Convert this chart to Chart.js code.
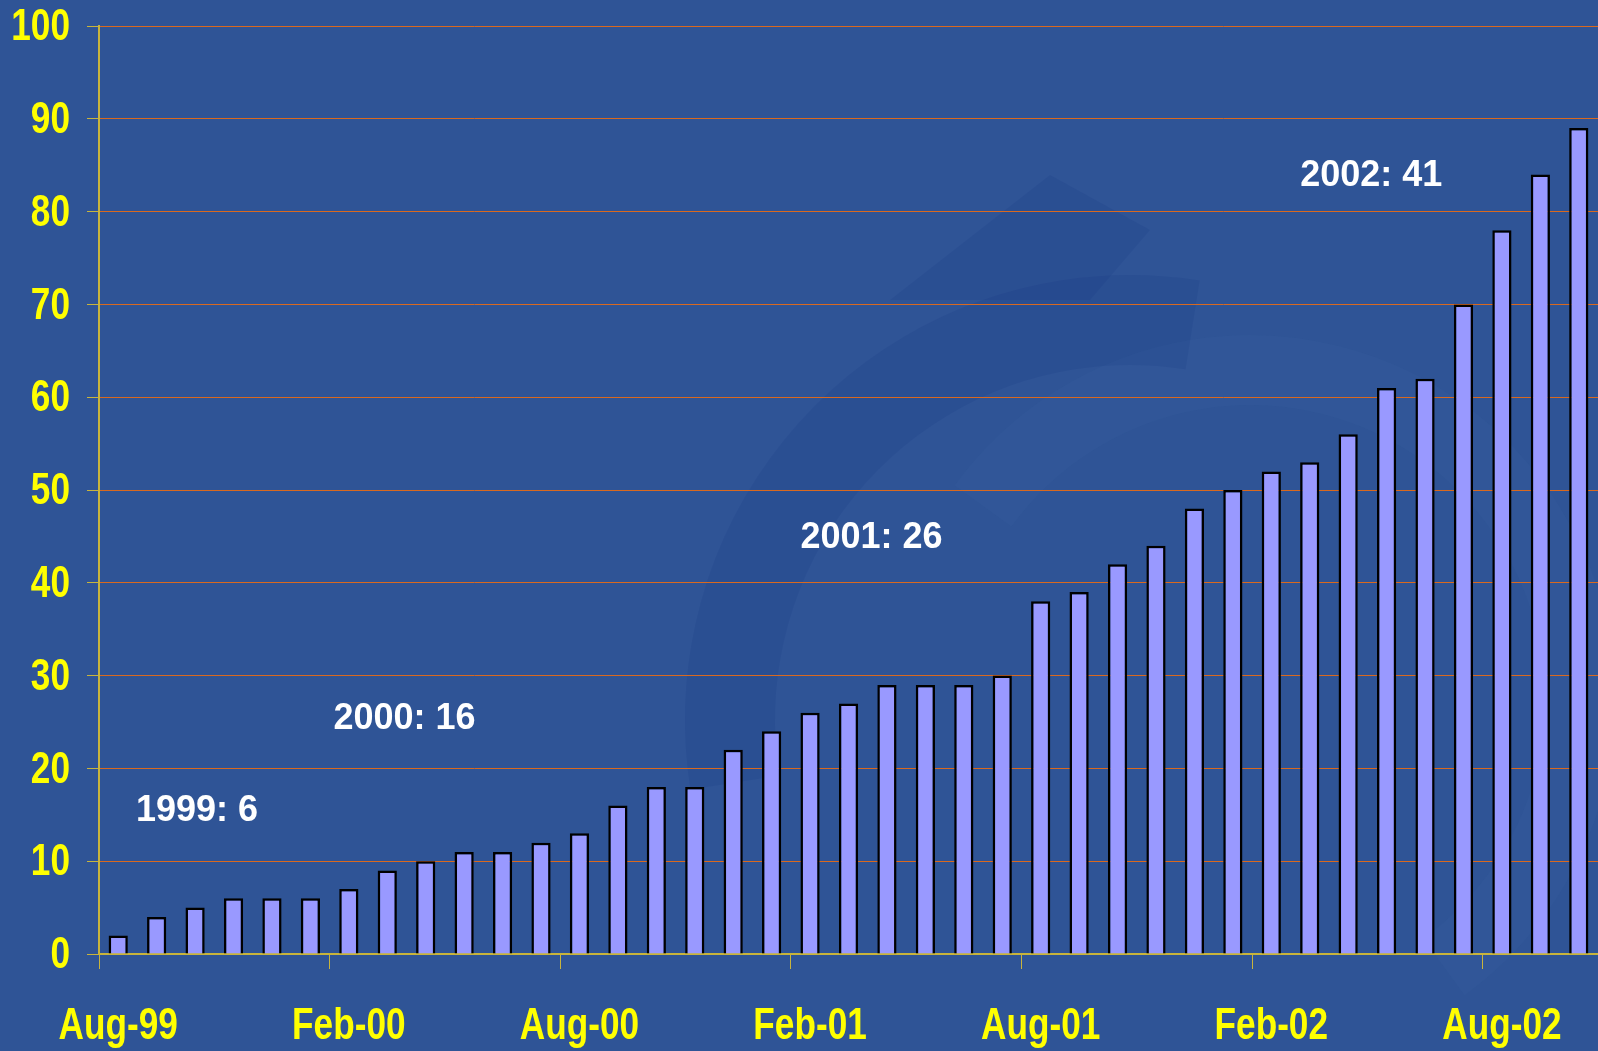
<!DOCTYPE html>
<html>
<head>
<meta charset="utf-8">
<script src="https://cdn.jsdelivr.net/npm/chart.js@4/dist/chart.umd.min.js"></script>
<style>
  html, body { margin: 0; padding: 0; background: #2f5496; }
  #wrap { width: 1598px; height: 1051px; }
</style>
</head>
<body>
<div id="wrap"><canvas id="myChart"></canvas></div>
<script>
// monthly values, Aug-99 .. Oct-02
var months = ['Aug-99','Sep-99','Oct-99','Nov-99','Dec-99',
    'Jan-00','Feb-00','Mar-00','Apr-00','May-00','Jun-00','Jul-00','Aug-00','Sep-00','Oct-00','Nov-00','Dec-00',
    'Jan-01','Feb-01','Mar-01','Apr-01','May-01','Jun-01','Jul-01','Aug-01','Sep-01','Oct-01','Nov-01','Dec-01',
    'Jan-02','Feb-02','Mar-02','Apr-02','May-02','Jun-02','Jul-02','Aug-02','Sep-02','Oct-02'];
var values = [2, 4, 5, 6, 6, 6, 7, 9, 10, 11, 11, 12, 13, 16, 18, 18, 22, 24, 26, 27,
    29, 29, 29, 30, 38, 39, 42, 44, 48, 50, 52, 53, 56, 61, 62, 70, 78, 84, 89];
var yTicks = [0, 10, 20, 30, 40, 50, 60, 70, 80, 90, 100];

// yearly notes (position in category index / value units)
var noteText = ['1999: 6', '2000: 16', '2001: 26', '2002: 41'];
var noteX = [2.05, 7.45, 19.6, 32.6];
var noteY = [15.4, 25.3, 44.8, 83.8];

var yellow = '#ffff00';
var axisColor = '#c8b43c';
var gridColor = '#d9691f';
var narrow = 0.8; // labels in the original are a condensed face

// background + faint swirl
var bgPlugin = {
    id: 'bg',
    beforeDraw: function (chart) {
        var ctx = chart.ctx;
        ctx.save();
        ctx.fillStyle = '#2f5496';
        ctx.fillRect(0, 0, chart.width, chart.height);
        ctx.globalAlpha = 0.13;
        ctx.strokeStyle = '#0e2f78';
        ctx.lineWidth = 90;
        ctx.beginPath();
        ctx.arc(1130, 720, 400, Math.PI * 0.95, Math.PI * 1.55);
        ctx.stroke();
        ctx.fillStyle = '#0e2f78';
        ctx.beginPath();
        ctx.moveTo(890, 300);
        ctx.lineTo(1050, 175);
        ctx.lineTo(1150, 230);
        ctx.lineTo(1090, 300);
        ctx.closePath();
        ctx.fill();
        ctx.strokeStyle = '#6f8fc8';
        ctx.globalAlpha = 0.04;
        ctx.lineWidth = 70;
        ctx.beginPath();
        ctx.arc(1250, 700, 330, Math.PI * 1.2, Math.PI * 2.3);
        ctx.stroke();
        ctx.restore();
    }
};

// tick labels drawn condensed, plus the yearly notes
var labelPlugin = {
    id: 'labels',
    afterDraw: function (chart) {
        var ctx = chart.ctx;
        var xs = chart.scales.x, ys = chart.scales.y;
        ctx.save();
        ctx.fillStyle = yellow;
        ctx.font = 'bold 44px "Liberation Sans", Arial, sans-serif';
        ctx.textBaseline = 'middle';
        ctx.scale(narrow, 1);
        ctx.textAlign = 'right';
        yTicks.forEach(function (v) {
            ctx.fillText(String(v), 70 / narrow, ys.getPixelForValue(v) + 2);
        });
        ctx.textAlign = 'center';
        months.forEach(function (m, i) {
            if (i % 6 === 0) {
                ctx.fillText(m, xs.getPixelForValue(i) / narrow, 1027);
            }
        });
        ctx.restore();

        var step = xs.getPixelForValue(1) - xs.getPixelForValue(0);
        ctx.save();
        ctx.fillStyle = '#ffffff';
        ctx.font = 'bold 36px "Liberation Sans", Arial, sans-serif';
        ctx.textAlign = 'center';
        ctx.textBaseline = 'middle';
        for (var i = 0; i < noteText.length; i++) {
            var px = xs.getPixelForValue(0) + step * noteX[i];
            ctx.fillText(noteText[i], px, ys.getPixelForValue(noteY[i]));
        }
        ctx.restore();
    }
};

var ctx = document.getElementById('myChart').getContext('2d');
var myChart = new Chart(ctx, {
    type: 'bar',
    data: {
        labels: months,
        datasets: [{
            data: values,
            backgroundColor: '#9999ff',
            borderColor: '#000000',
            borderWidth: 2.5,
            borderSkipped: 'bottom',
            barPercentage: 0.5,
            categoryPercentage: 1.0
        }]
    },
    options: {
        responsive: true,
        maintainAspectRatio: false,
        animation: false,
        layout: { padding: { top: 26, right: 0, left: 0, bottom: 0 } },
        plugins: {
            legend: { display: false },
            tooltip: { enabled: false }
        },
        scales: {
            x: {
                offset: true,
                grid: {
                    offset: true,
                    drawOnChartArea: false,
                    drawTicks: true,
                    tickLength: 15,
                    tickColor: function (c) { return c.index % 6 === 0 ? axisColor : 'rgba(0,0,0,0)'; }
                },
                border: { display: true, color: axisColor, width: 2 },
                ticks: { display: false, autoSkip: false },
                afterFit: function (scale) { scale.height = 97; }
            },
            y: {
                min: 0,
                max: 100,
                afterBuildTicks: function (scale) {
                    scale.ticks = yTicks.map(function (v) { return { value: v }; });
                },
                grid: {
                    color: function (c) { return c.tick && c.tick.value === 0 ? 'rgba(0,0,0,0)' : gridColor; },
                    tickColor: axisColor,
                    tickLength: 12,
                    lineWidth: 1
                },
                border: { display: true, color: axisColor, width: 2 },
                ticks: { display: false },
                afterFit: function (scale) { scale.width = 99; }
            }
        }
    },
    plugins: [bgPlugin, labelPlugin]
});
</script>
</body>
</html>
